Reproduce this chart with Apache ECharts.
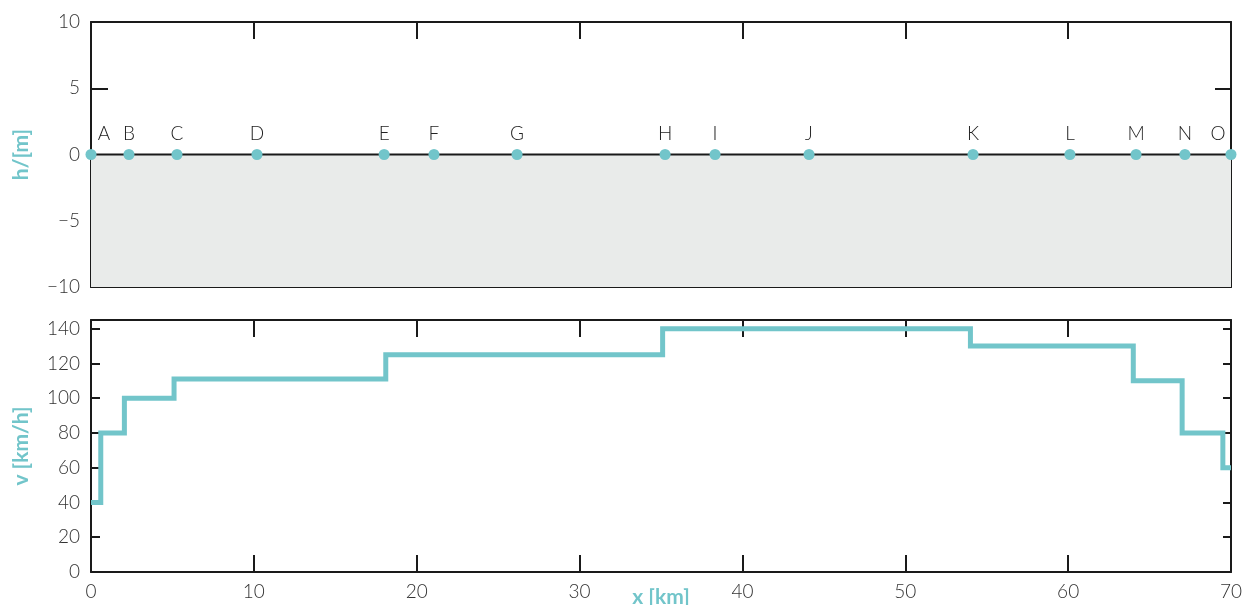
<!DOCTYPE html>
<html>
<head>
<meta charset="utf-8">
<script src="https://cdn.jsdelivr.net/npm/echarts@6/dist/echarts.min.js"></script>
<style>
html,body{margin:0;padding:0;background:#fff;}
#c{width:1246px;height:605px;}
</style>
</head>
<body>
<div id="c"></div>
<script>
// Stations (km) and names
const stationNames = ['A','B','C','D','E','F','G','H','I','J','K','L','M','N','O'];
const stationKm = [0, 2.33, 5.28, 10.19, 18.0, 21.06, 26.16, 35.25, 38.32, 44.09, 54.16, 60.11, 64.17, 67.17, 70];
// Speed profile: start km of each step and speed (km/h)
const stepStartKm = [0, 0.6, 2.05, 5.1, 18.1, 35.1, 54.0, 64.0, 67.0, 69.5];
const stepSpeed = [40, 80, 100, 111, 125, 140, 130, 110, 80, 60];
const routeEndKm = 70;
// Elevation profile (flat)
const profileKm = [0, 70];
const profileH = [0, 0];
// Tick labels
const xTicks = [0, 10, 20, 30, 40, 50, 60, 70];
const hTicks = [-10, -5, 0, 5, 10];
const vTicks = [0, 20, 40, 60, 80, 100, 120, 140];

const TEAL = '#72c5ca';
const INK = '#1a1a1a';
const FONT = 'Lato';

const speedData = stepStartKm.map((x, i) => [x, stepSpeed[i]]);
speedData.push([routeEndKm, stepSpeed[stepSpeed.length - 1]]);

const stationData = stationKm.map((x, i) => {
  const item = { value: [x, 0], name: stationNames[i] };
  if (i === 0) item.label = { offset: [13, 0] };
  if (i === stationKm.length - 1) item.label = { offset: [-13, 0] };
  return item;
});

const minus = v => String(v).replace('-', '\u2212');

function xAxisDef(grid, pos, showLabels, tickLen) {
  return {
    type: 'value', gridIndex: grid, position: pos, min: 0, max: 70, interval: 10,
    axisLine: { show: true, onZero: false, lineStyle: { color: INK, width: 2 } },
    axisTick: { show: true, inside: true, length: tickLen, lineStyle: { color: INK, width: 2 } },
    axisLabel: {
      show: showLabels, color: '#333', fontFamily: FONT, fontSize: 19, fontWeight: 300, margin: 10,
      formatter: v => xTicks.indexOf(v) >= 0 ? String(v) : ''
    },
    splitLine: { show: false }
  };
}

function yAxisDef(grid, pos, min, max, interval, tickLen, ticks, labelFmt) {
  return {
    type: 'value', gridIndex: grid, position: pos, min: min, max: max, interval: interval,
    axisLine: { show: true, onZero: false, lineStyle: { color: INK, width: 2 } },
    axisTick: { show: true, inside: true, length: tickLen, lineStyle: { color: INK, width: 2 } },
    axisLabel: labelFmt ? { color: '#333', fontFamily: FONT, fontSize: 19, fontWeight: 300, margin: 11,
      formatter: v => ticks.indexOf(v) >= 0 ? labelFmt(v) : '' } : { show: false },
    splitLine: { show: false }
  };
}

const nameStyle = { color: TEAL, fontFamily: FONT, fontWeight: 'bold', fontSize: 21 };

const option = {
  animation: false,
  backgroundColor: '#fff',
  grid: [
    { left: 91, right: 15, top: 22, height: 265, outerBoundsMode: 'none', containLabel: false },
    { left: 91, right: 15, top: 320, height: 252, outerBoundsMode: 'none', containLabel: false }
  ],
  xAxis: [
    xAxisDef(0, 'bottom', false, 17),
    xAxisDef(0, 'top', false, 17),
    Object.assign(xAxisDef(1, 'bottom', true, 17), {
      name: 'x [km]', nameLocation: 'middle', nameGap: 15, nameMoveOverlap: false, nameTextStyle: nameStyle
    }),
    xAxisDef(1, 'top', false, 17)
  ],
  yAxis: [
    Object.assign(yAxisDef(0, 'left', -10, 10, 5, 17, hTicks, minus), {
      name: 'h/[m]', nameLocation: 'middle', nameGap: 59, nameMoveOverlap: false, nameRotate: 90, nameTextStyle: nameStyle
    }),
    yAxisDef(0, 'right', -10, 10, 5, 16, hTicks, null),
    Object.assign(yAxisDef(1, 'left', 0, 145, 20, 9, vTicks, v => String(v)), {
      name: 'v [km/h]', nameLocation: 'middle', nameGap: 59, nameMoveOverlap: false, nameRotate: 90, nameTextStyle: nameStyle
    }),
    yAxisDef(1, 'right', 0, 145, 20, 8, vTicks, null)
  ],
  series: [
    {
      type: 'line', xAxisIndex: 0, yAxisIndex: 0,
      data: profileKm.map((x, i) => [x, profileH[i]]),
      showSymbol: false, symbol: 'none',
      lineStyle: { color: INK, width: 2 },
      areaStyle: { color: '#e9ebea', opacity: 1, origin: 'start' },
      z: 2
    },
    {
      type: 'scatter', xAxisIndex: 0, yAxisIndex: 0, clip: false,
      data: stationData, symbolSize: 11,
      itemStyle: { color: TEAL, opacity: 1 },
      label: { show: true, position: 'top', distance: 6, formatter: p => p.name,
        color: '#222', fontFamily: FONT, fontSize: 19, fontWeight: 300 },
      z: 5
    },
    {
      type: 'line', xAxisIndex: 2, yAxisIndex: 2, step: 'end',
      data: speedData, showSymbol: false, symbol: 'none',
      lineStyle: { color: TEAL, width: 5, join: 'miter', cap: 'butt' },
      z: 3
    }
  ]
};

const chart = echarts.init(document.getElementById('c'), null, { renderer: 'canvas' });
chart.setOption(option);
</script>
</body>
</html>
